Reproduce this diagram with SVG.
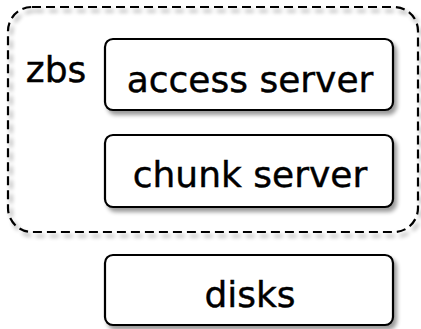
<svg xmlns="http://www.w3.org/2000/svg" width="421" height="329" viewBox="0 0 421 329">
<defs>
<filter id="sh" x="-10%" y="-10%" width="130%" height="140%">
<feGaussianBlur in="SourceAlpha" stdDeviation="2"/>
<feOffset dx="3" dy="4" result="b"/>
<feComponentTransfer><feFuncA type="linear" slope="0.4"/></feComponentTransfer>
<feMerge><feMergeNode/><feMergeNode in="SourceGraphic"/></feMerge>
</filter>
<style>
.box{fill:#fff;stroke:#000;stroke-width:2.2;filter:url(#sh)}
.grp{fill:none;stroke:#000;stroke-width:2.2;stroke-dasharray:9 5;filter:url(#sh)}
.t{font-family:"DejaVu Sans",sans-serif;font-size:36px;fill:#000;stroke:#000;stroke-width:0.4;text-anchor:middle}
</style>
</defs>
<rect width="421" height="329" fill="#fff"/>
<g id="zbs">
<rect class="grp" x="8" y="7" width="410" height="225" rx="24"/>
<text class="t" x="56" y="82">zbs</text>
</g>
<g id="access-server">
<rect class="box" x="105" y="39" width="288" height="71" rx="8"/>
<text class="t" x="250" y="92">access server</text>
</g>
<g id="chunk-server">
<rect class="box" x="105" y="135" width="288" height="72" rx="8"/>
<text class="t" x="250" y="187">chunk server</text>
</g>
<g id="disks">
<rect class="box" x="105" y="255" width="288" height="70" rx="8"/>
<text class="t" x="250" y="307">disks</text>
</g>
<g id="connectors"></g>
</svg>
